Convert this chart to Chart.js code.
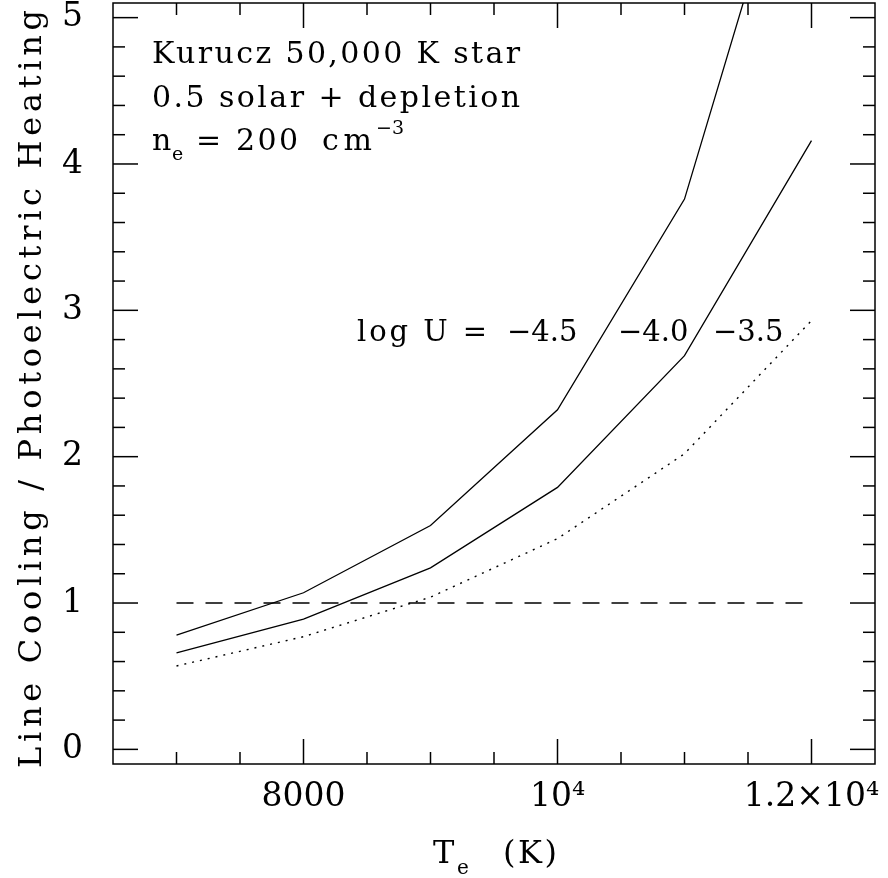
<!DOCTYPE html>
<html>
<head>
<meta charset="utf-8">
<script src="https://cdn.jsdelivr.net/npm/chart.js@4.4.0/dist/chart.umd.min.js"></script>
<style>
  html, body { margin: 0; padding: 0; background: #fff; }
  #wrap { width: 888px; height: 878px; }
</style>
</head>
<body>
<div id="wrap"><canvas id="chartCanvas"></canvas></div>
<script>
const temps = [7000, 8000, 9000, 10000, 11000, 12000];
const ratioLogU45 = [0.78, 1.07, 1.53, 2.32, 3.76, 6.66];
const ratioLogU40 = [0.66, 0.89, 1.24, 1.79, 2.69, 4.16];
const ratioLogU35 = [0.57, 0.77, 1.04, 1.44, 2.02, 2.93];
const unity = [1, 1, 1, 1, 1, 1];

const xMajorTicks = [8000, 10000, 12000];
const xTickLabels = ['8000', '10⁴', '1.2×10⁴'];
const xMinorTicks = [7000, 7500, 8500, 9000, 9500, 10500, 11000, 11500];
const yMajorTicks = [0, 1, 2, 3, 4, 5];
const yMinorTicks = [0.2, 0.4, 0.6, 0.8, 1.2, 1.4, 1.6, 1.8, 2.2, 2.4, 2.6, 2.8,
                     3.2, 3.4, 3.6, 3.8, 4.2, 4.4, 4.6, 4.8];

const FONT = "'DejaVu Serif', serif";

function pts(ys) {
  return temps.map((t, i) => ({ x: t, y: ys[i] }));
}

function line(ctx, x1, y1, x2, y2) {
  ctx.beginPath();
  ctx.moveTo(x1, y1);
  ctx.lineTo(x2, y2);
  ctx.stroke();
}

// the original font is wider than DejaVu, so stretch the letter spacing to a target width
function spreadText(ctx, str, x, y, width) {
  ctx.letterSpacing = '0px';
  const w = ctx.measureText(str).width;
  const gap = Math.max(0, (width - w) / Math.max(1, str.length - 1));
  ctx.letterSpacing = gap + 'px';
  ctx.fillText(str, x, y);
  ctx.letterSpacing = '0px';
}

// box, inward ticks on all four sides, and the text annotations
const framePlugin = {
  id: 'frame',
  afterDatasetsDraw(chart) {
    const { ctx, chartArea: a, scales: { x, y } } = chart;
    ctx.save();
    ctx.strokeStyle = '#000';
    ctx.lineWidth = 1.5;
    ctx.setLineDash([]);
    ctx.strokeRect(a.left, a.top, a.right - a.left, a.bottom - a.top);

    xMajorTicks.concat(xMinorTicks).forEach(v => {
      const px = x.getPixelForValue(v);
      const len = xMajorTicks.includes(v) ? 25 : 12;
      line(ctx, px, a.bottom, px, a.bottom - len);
      line(ctx, px, a.top, px, a.top + len);
    });
    yMajorTicks.concat(yMinorTicks).forEach(v => {
      const py = y.getPixelForValue(v);
      const len = yMajorTicks.includes(v) ? 25 : 12;
      line(ctx, a.left, py, a.left + len, py);
      line(ctx, a.right, py, a.right - len, py);
    });

    ctx.fillStyle = '#000';
    ctx.textBaseline = 'alphabetic';
    ctx.textAlign = 'left';

    // legend block at top left
    ctx.font = '30px ' + FONT;
    spreadText(ctx, 'Kurucz 50,000 K star', 152, 63, 368);
    spreadText(ctx, '0.5 solar + depletion', 152, 107, 368);
    ctx.fillText('n', 152, 150);
    ctx.fillText('=', 196, 150);
    spreadText(ctx, '200', 236, 150, 62);
    spreadText(ctx, 'cm', 322, 150, 50);
    ctx.font = '19px ' + FONT;
    ctx.fillText('e', 172, 160);
    ctx.fillText('−3', 376, 134);

    // curve labels
    ctx.font = '29px ' + FONT;
    spreadText(ctx, 'log U =', 357, 341, 130);
    ctx.fillText('−4.5', 507, 341);
    ctx.fillText('−4.0', 618, 341);
    ctx.fillText('−3.5', 713, 341);

    // axis titles
    ctx.font = '32px ' + FONT;
    ctx.fillText('T', 433, 863);
    ctx.font = '20px ' + FONT;
    ctx.fillText('e', 457, 874);
    ctx.font = '32px ' + FONT;
    spreadText(ctx, '(K)', 503, 863, 54);

    ctx.save();
    ctx.translate(41, 768);
    ctx.rotate(-Math.PI / 2);
    ctx.font = '32px ' + FONT;
    spreadText(ctx, 'Line Cooling / Photoelectric Heating', 0, 0, 758);
    ctx.restore();

    ctx.restore();
  }
};

const ctx = document.getElementById('chartCanvas').getContext('2d');

const chartData = {
  datasets: [
    {
      label: 'log U = -4.5',
      data: pts(ratioLogU45),
      borderColor: '#000',
      borderWidth: 1.3,
      pointRadius: 0,
      fill: false
    },
    {
      label: 'log U = -4.0',
      data: pts(ratioLogU40),
      borderColor: '#000',
      borderWidth: 1.3,
      pointRadius: 0,
      fill: false
    },
    {
      label: 'log U = -3.5',
      data: pts(ratioLogU35),
      borderColor: '#000',
      borderWidth: 1.4,
      borderDash: [2, 6],
      pointRadius: 0,
      fill: false
    },
    {
      label: 'unity',
      data: pts(unity),
      borderColor: '#000',
      borderWidth: 1.3,
      borderDash: [17, 12],
      pointRadius: 0,
      fill: false
    }
  ]
};

const config = {
  type: 'line',
  data: chartData,
  plugins: [framePlugin],
  options: {
    responsive: true,
    maintainAspectRatio: false,
    animation: false,
    layout: { padding: { top: 3, right: 13, left: 0, bottom: 0 } },
    plugins: {
      legend: { display: false },
      tooltip: { enabled: false }
    },
    scales: {
      x: {
        type: 'linear',
        min: 6500,
        max: 12500,
        border: { display: false },
        grid: { display: false, drawTicks: false },
        afterBuildTicks: scale => {
          scale.ticks = xMajorTicks.map(v => ({ value: v }));
        },
        afterFit: scale => {
          scale.height = 114;
          scale.paddingLeft = 0;
          scale.paddingRight = 0;
        },
        ticks: {
          color: '#000',
          padding: 14,
          maxRotation: 0,
          autoSkip: false,
          font: { family: FONT, size: 33 },
          callback: v => {
            const i = xMajorTicks.indexOf(v);
            return i >= 0 ? xTickLabels[i] : '';
          }
        }
      },
      y: {
        type: 'linear',
        min: -0.1,
        max: 5.1,
        border: { display: false },
        grid: { display: false, drawTicks: false },
        afterBuildTicks: scale => {
          scale.ticks = yMajorTicks.map(v => ({ value: v }));
        },
        afterFit: scale => {
          scale.width = 113;
          scale.paddingTop = 0;
          scale.paddingBottom = 0;
        },
        ticks: {
          color: '#000',
          padding: 30,
          autoSkip: false,
          font: { family: FONT, size: 33 },
          callback: v => String(v)
        }
      }
    }
  }
};

const myChart = new Chart(ctx, config);
</script>
</body>
</html>
